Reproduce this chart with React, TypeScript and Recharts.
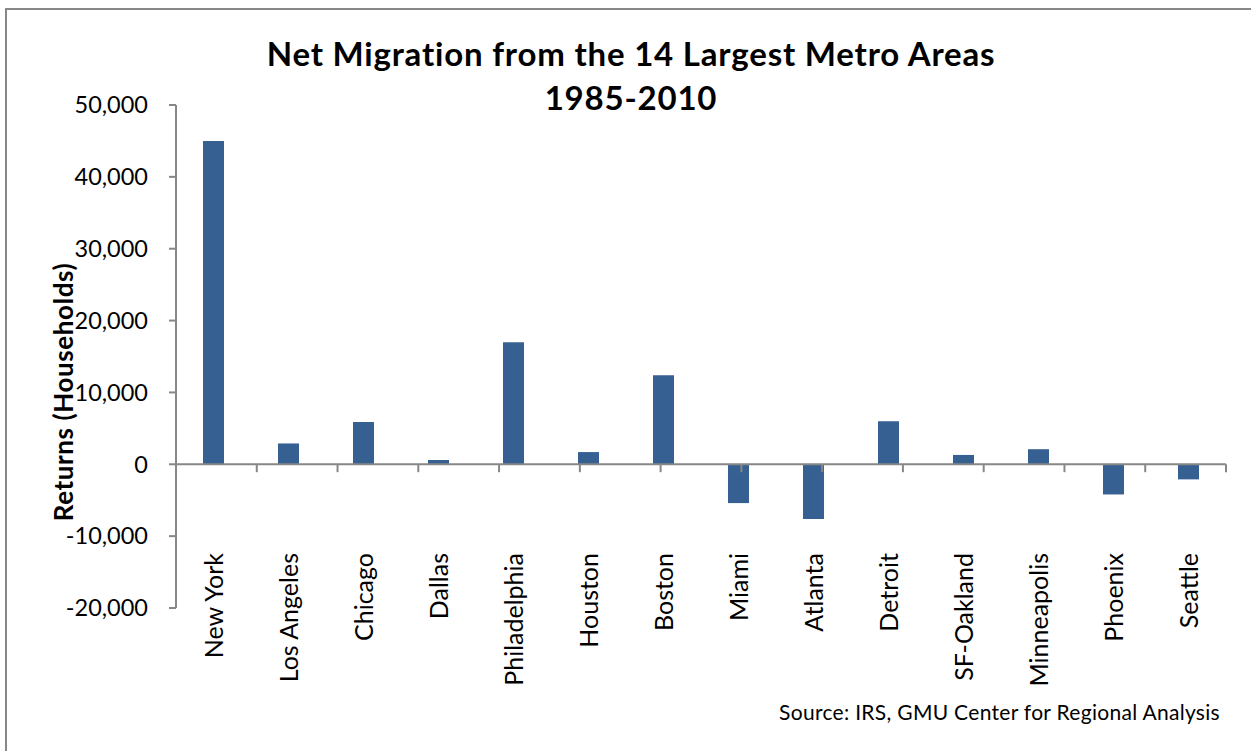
import { BarChart, Bar, XAxis, YAxis, ReferenceLine } from 'recharts';

// Net migration (tax returns / households), 1985-2010
const METROS = [
  'New York',
  'Los Angeles',
  'Chicago',
  'Dallas',
  'Philadelphia',
  'Houston',
  'Boston',
  'Miami',
  'Atlanta',
  'Detroit',
  'SF-Oakland',
  'Minneapolis',
  'Phoenix',
  'Seattle',
];
const NET_RETURNS = [45000, 2900, 5900, 600, 17000, 1700, 12400, -5400, -7600, 6000, 1300, 2100, -4200, -2100];
const Y_TICKS = [-20000, -10000, 0, 10000, 20000, 30000, 40000, 50000];

const data = METROS.map((metro, i) => ({ metro, returns: NET_RETURNS[i] }));
// category boundaries (in band units) for the little ticks hanging off the zero line
const EDGES = METROS.map((_, i) => i + 1);

const FONT = "Lato, 'Open Sans', sans-serif";
const AXIS_GRAY = '#878787';
const BAR_BLUE = '#376092';
const TICK_DEPTH = 1100; // ~8px below zero

function MetroTick({ x, y, payload }: { x?: number; y?: number; payload?: { value: string } }) {
  const ty = (y ?? 0) - 55;
  return (
    <text
      x={x}
      y={ty}
      dy="0.36em"
      transform={`rotate(-90, ${x}, ${ty})`}
      textAnchor="end"
      fill="#000"
      fontSize={25}
      fontFamily={FONT}
    >
      {payload?.value}
    </text>
  );
}

export default function App() {
  return (
    <div
      style={{
        position: 'absolute',
        left: 0,
        top: 0,
        width: 1251,
        height: 751,
        background: '#fff',
        overflow: 'hidden',
        fontFamily: FONT,
      }}
    >
      {/* chart frame, only top/left edges are visible in the crop */}
      <div
        style={{
          position: 'absolute',
          left: 5,
          top: 8,
          width: 1300,
          height: 800,
          borderTop: `2px solid ${AXIS_GRAY}`,
          borderLeft: `2px solid ${AXIS_GRAY}`,
        }}
      />
      <div
        style={{
          position: 'absolute',
          left: 0,
          width: 1262,
          top: 31,
          textAlign: 'center',
          fontWeight: 700,
          fontSize: 33,
          letterSpacing: 0.8,
          lineHeight: '44px',
          color: '#000',
        }}
      >
        Net Migration from the 14 Largest Metro Areas
        <br />
        1985-2010
      </div>
      <div
        style={{
          position: 'absolute',
          left: 63 - 150,
          top: 392 - 15,
          width: 300,
          height: 30,
          lineHeight: '30px',
          textAlign: 'center',
          transform: 'rotate(-90deg)',
          fontWeight: 700,
          fontSize: 26,
          letterSpacing: 0.6,
          color: '#000',
        }}
      >
        Returns (Households)
      </div>
      <div
        style={{
          position: 'absolute',
          right: 31,
          top: 699,
          fontSize: 21,
          letterSpacing: 0.3,
          color: '#000',
          whiteSpace: 'nowrap',
        }}
      >
        Source: IRS, GMU Center for Regional Analysis
      </div>

      <div style={{ position: 'absolute', left: 0, top: 0 }}>
        <BarChart
          width={1251}
          height={751}
          data={data}
          margin={{ top: 105, right: 25, bottom: 0, left: 76 }}
        >
          <XAxis
            xAxisId="cat"
            dataKey="metro"
            type="category"
            height={143}
            axisLine={false}
            tickLine={false}
            tickSize={0}
            tickMargin={0}
            interval={0}
            tick={<MetroTick />}
          />
          <XAxis xAxisId="grid" type="number" domain={[0, METROS.length]} hide />
          <YAxis
            width={100}
            domain={[-20000, 50000]}
            ticks={Y_TICKS}
            interval={0}
            allowDataOverflow
            axisLine={{ stroke: AXIS_GRAY, strokeWidth: 2 }}
            tickLine={{ stroke: AXIS_GRAY, strokeWidth: 2 }}
            tickSize={7}
            tickMargin={21}
            tick={{ fill: '#000', fontSize: 23.5, fontFamily: FONT }}
            tickFormatter={(v: number) => v.toLocaleString('en-US')}
          />
          <Bar
            xAxisId="cat"
            dataKey="returns"
            fill={BAR_BLUE}
            barSize={21}
            isAnimationActive={false}
          />
          <ReferenceLine xAxisId="cat" y={0} stroke={AXIS_GRAY} strokeWidth={2} />
          {EDGES.map((e) => (
            <ReferenceLine
              key={e}
              xAxisId="grid"
              segment={[
                { x: e, y: 0 },
                { x: e, y: -TICK_DEPTH },
              ]}
              stroke={AXIS_GRAY}
              strokeWidth={2}
            />
          ))}
        </BarChart>
      </div>
    </div>
  );
}
